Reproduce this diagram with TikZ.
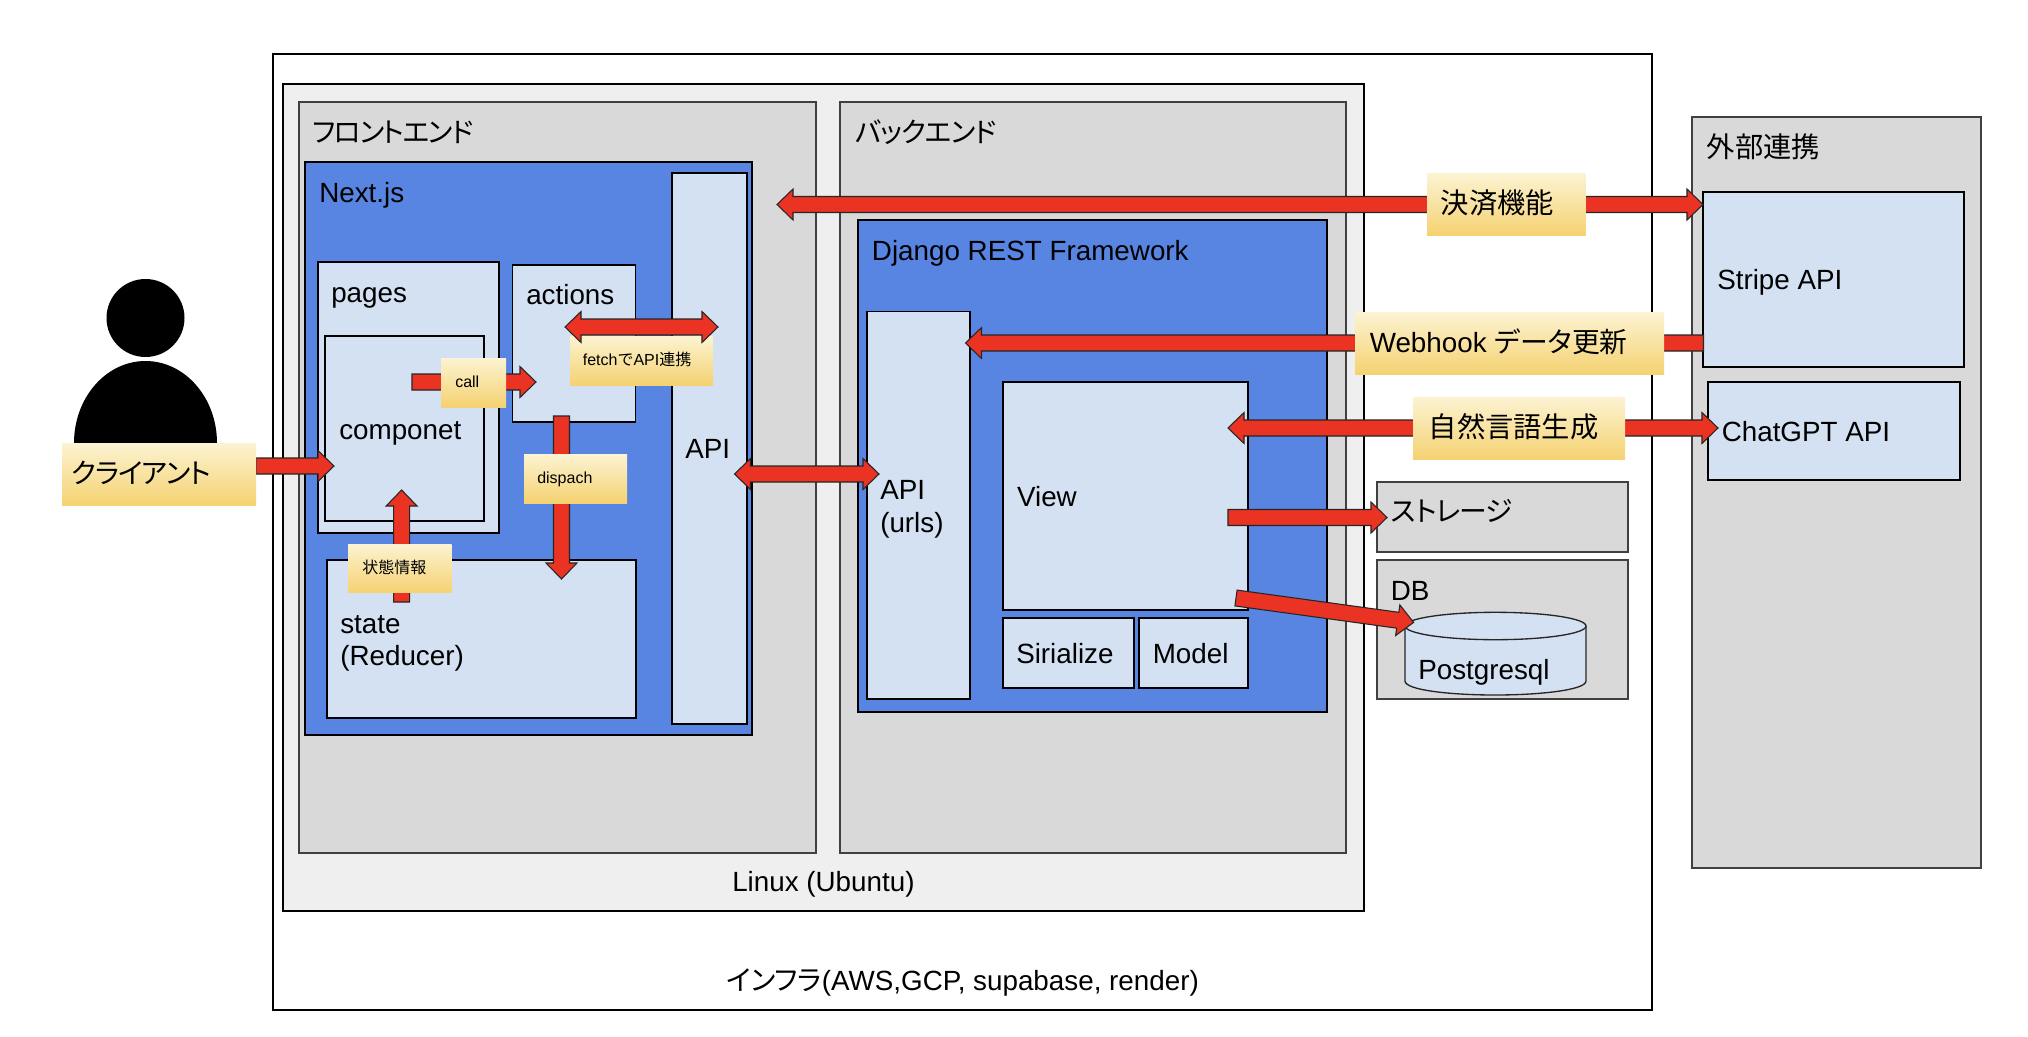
\documentclass[tikz,border=0pt]{standalone}
\usepackage{fontspec}
\setmainfont{Liberation Sans}
\newfontfamily\jp[RawFeature={+palt},LetterSpace=-3.5]{Noto Sans CJK JP}
\newfontfamily\jq[RawFeature={+palt},LetterSpace=-5]{Noto Sans CJK JP}
\newfontfamily\jn[RawFeature={+palt}]{Noto Sans CJK JP}
\newfontfamily\jk{Noto Sans CJK JP}
\usetikzlibrary{calc}
\definecolor{paneA}{HTML}{EFEFEF}
\definecolor{paneB}{HTML}{D9D9D9}
\definecolor{paneBlue}{HTML}{5885E1}
\definecolor{paneLight}{HTML}{D4E1F2}
\definecolor{arrowRed}{HTML}{EA3323}
\definecolor{goldTop}{HTML}{FCF3D2}
\definecolor{goldBot}{HTML}{F5D271}
\tikzset{
  frame/.style={rectangle,draw=black,line width=1.1pt,inner sep=0pt,outer sep=0pt,anchor=north west},
  infra/.style={frame,fill=white},
  linuxbox/.style={frame,fill=paneA},
  grey/.style={frame,fill=paneB,draw=black!75},
  blue/.style={frame,fill=paneBlue},
  light/.style={frame,fill=paneLight},
  gold/.style={rectangle,draw=none,inner sep=0pt,outer sep=0pt,anchor=north west,top color=goldTop,bottom color=goldBot},
  big/.style={anchor=base west,inner sep=0pt,font=\fontsize{20.85pt}{24pt}\selectfont},
  bigk/.style={anchor=base west,inner sep=0pt,font=\fontsize{21.2pt}{24pt}\selectfont\jk},
  small/.style={anchor=base west,inner sep=0pt,font=\fontsize{12pt}{14pt}\selectfont},
  blockarrow/.style={draw=black!85,line width=0.8pt,fill=arrowRed,line join=miter},
}
% box node from corner pixels
\newcommand\bx[6]{%
  \pgfmathsetmacro\bxw{(#5-#3)*0.75}\pgfmathsetmacro\bxh{(#6-#4)*0.75}%
  \node[#1,minimum width=\bxw pt,minimum height=\bxh pt] (#2) at (#3,#4) {};}
% single block arrow from #1 to #2
\newcommand\sarrow[2]{%
  \draw[blockarrow] let \p1=($(#2)-(#1)$),\n1={atan2(\y1,\x1)},\n2={veclen(\x1,\y1)} in
    [shift={(#1)},rotate=\n1]
    (0pt,-6pt) -- (\n2-12pt,-6pt) -- (\n2-12pt,-11.6pt) -- (\n2,0pt) -- (\n2-12pt,11.6pt) -- (\n2-12pt,6pt) -- (0pt,6pt) -- cycle;}
% double block arrow
\newcommand\darrow[2]{%
  \draw[blockarrow] let \p1=($(#2)-(#1)$),\n1={atan2(\y1,\x1)},\n2={veclen(\x1,\y1)} in
    [shift={(#1)},rotate=\n1]
    (0pt,0pt) -- (12pt,-11.6pt) -- (12pt,-6pt) -- (\n2-12pt,-6pt) -- (\n2-12pt,-11.6pt) -- (\n2,0pt) -- (\n2-12pt,11.6pt) -- (\n2-12pt,6pt) -- (12pt,6pt) -- (12pt,11.6pt) -- cycle;}
\begin{document}
\begin{tikzpicture}[x=0.75pt,y=-0.75pt]
\useasboundingbox (0,0) rectangle (2028,1036);
\fill[white] (0,0) rectangle (2028,1036);
% containers
\bx{infra}{infra}{273}{54}{1652}{1010}
\bx{linuxbox}{linux}{283}{84}{1364}{911}
\bx{grey}{front}{299}{102}{816}{853}
\bx{grey}{back}{840}{102}{1346}{853}
\bx{grey}{ext}{1692}{117}{1981}{868}
\bx{blue}{next}{305}{162}{752}{735}
\bx{light}{fapi}{672}{173}{747}{724}
\bx{light}{pages}{318}{262}{499}{533}
\bx{light}{comp}{325}{336}{484}{521}
\bx{light}{actions}{512.5}{265}{635.5}{422}
\bx{light}{state}{327}{560}{636}{718}
\bx{blue}{drf}{858}{220}{1327}{712}
\bx{light}{urls}{867}{311.5}{970}{699}
\bx{light}{view}{1003}{382}{1248}{610}
\bx{light}{serial}{1003}{618}{1134}{688}
\bx{light}{model}{1139}{618}{1248}{688}
\bx{grey}{storage}{1377}{482}{1628}{552}
\bx{grey}{db}{1377}{560}{1628}{699}
\bx{light}{stripe}{1703}{192}{1964}{367}
\bx{light}{chat}{1708}{382}{1960}{480}
% cylinder
\draw[fill=paneLight,draw=black!85,line width=1pt]
  (1405,626) -- (1405,681) .. controls (1405,690) and (1450,695) .. (1495,695)
  .. controls (1540,695) and (1586,690) .. (1586,681) -- (1586,626);
\draw[fill=paneLight,draw=black!85,line width=1pt] (1495.5,626) ellipse [x radius=90.5,y radius=13.7];
% person
\fill[black] (145.5,318) circle [radius=39];
\fill[black] (74,443) arc [start angle=180,end angle=360,x radius=71.5,y radius=82] -- cycle;
% connector ends
\coordinate (cl-s) at (256,466);   \coordinate (cl-t) at (334,466);
\coordinate (ca-s) at (412,382);   \coordinate (ca-t) at (536,382);
\coordinate (fe-s) at (565,327);   \coordinate (fe-t) at (718,327);
\coordinate (di-s) at (561.5,416); \coordinate (di-t) at (561.5,579);
\coordinate (st-s) at (401.6,602); \coordinate (st-t) at (401.6,490);
\coordinate (pa-s) at (777,204.5); \coordinate (pa-t) at (1703,204.5);
\coordinate (ap-s) at (734.5,474); \coordinate (ap-t) at (879,474);
\coordinate (wh-s) at (1703.5,343);\coordinate (wh-t) at (965.5,343);
\coordinate (nl-s) at (1228,428);  \coordinate (nl-t) at (1718,428);
\coordinate (sg-s) at (1228,517.5);\coordinate (sg-t) at (1387,517.5);
\coordinate (db-s) at (1236,598);  \coordinate (db-t) at (1413.6,622.4);
\sarrow{cl-s}{cl-t}
\sarrow{ca-s}{ca-t}
\sarrow{di-s}{di-t}
\sarrow{st-s}{st-t}
\darrow{pa-s}{pa-t}
\darrow{ap-s}{ap-t}
\sarrow{wh-s}{wh-t}
\darrow{nl-s}{nl-t}
\sarrow{sg-s}{sg-t}
\sarrow{db-s}{db-t}
% gold labels
\bx{gold}{g-client}{62}{443}{256}{505.5}
\bx{gold}{g-call}{441}{358}{506}{407}
\bx{gold}{g-fetch}{570}{336}{713}{385}
\bx{gold}{g-dis}{524}{454.5}{627}{503}
\bx{gold}{g-state}{348}{544}{451.5}{592.5}
\bx{gold}{g-pay}{1427}{173.5}{1585.6}{235.5}
\bx{gold}{g-hook}{1355}{312}{1664}{374.7}
\bx{gold}{g-nl}{1413}{397}{1625}{459.6}
\darrow{fe-s}{fe-t}
% texts
\node[big] (t-infra) at (726,990) {{\jn インフラ}(AWS,GCP, supabase, render)};
\node[big] (t-linux) at (732,891.5) {Linux (Ubuntu)};
\node[big] (t-front) at (312,142) {\jq フロントエンド};
\node[big] (t-back) at (855,142) {\jp バックエンド};
\node[bigk] (t-ext) at (1706.5,157) {外部連携};
\node[big] (t-next) at (319,202) {Next.js};
\node[big] (t-pages) at (331,302) {pages};
\node[big] (t-actions) at (526,304.7) {actions};
\node[big] (t-comp) at (339,439) {componet};
\node[big] (t-fapi) at (685,458.5) {API};
\node[big] (t-state) at (340,633) {state};
\node[big] (t-red) at (340,665.5) {(Reducer)};
\node[big] (t-client) at (71,483) {\jp クライアント};
\node[small] (t-call) at (455,387.5) {call};
\node[small] (t-fetch) at (582.6,365.5) {fetch{\jk で}API{\jk 連携}};
\node[small] (t-dis) at (537,483.5) {dispach};
\node[small] (t-st) at (362,573) {\jk 状態情報};
\node[big] (t-drf) at (871.7,260) {Django REST Framework};
\node[big] (t-api1) at (880,499) {API};
\node[big] (t-api2) at (880,532.6) {(urls)};
\node[big] (t-view) at (1016.8,506) {View};
\node[big] (t-ser) at (1016,663) {Sirialize};
\node[big] (t-model) at (1152.5,663) {Model};
\node[bigk] (t-pay) at (1440.5,213) {決済機能};
\node[big] (t-stripe) at (1717,289.5) {Stripe API};
\node[big] (t-hook) at (1369.5,352) {Webhook {\jn データ}{\jk 更新}};
\node[bigk] (t-nl) at (1428.5,437) {自然言語生成};
\node[big] (t-chat) at (1721.5,441) {ChatGPT API};
\node[big] (t-sto) at (1391,521) {\jp ストレージ};
\node[big] (t-db) at (1390.5,600) {DB};
\node[big] (t-pg) at (1418,679.6) {Postgresql};
\end{tikzpicture}
\end{document}
